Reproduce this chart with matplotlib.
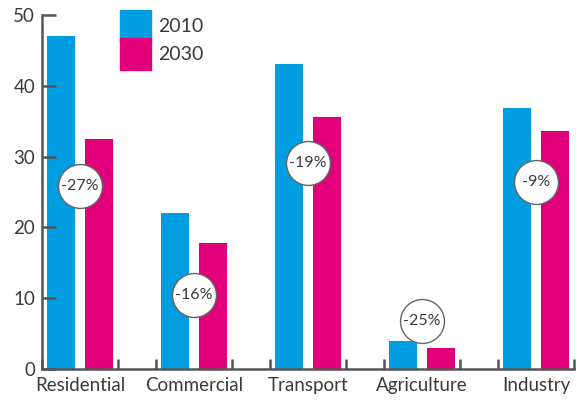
from matplotlib import pyplot as plt
from matplotlib.patches import Patch
import numpy as np

categories = ['Residential', 'Commercial', 'Transport', 'Agriculture', 'Industry']
values_2010 = [47, 22, 43.1, 4, 36.9]
values_2030 = [32.5, 17.8, 35.6, 3.0, 33.6]
change_labels = ['-27%', '-16%', '-19%', '-25%', '-9%']
change_y = [25.8, 10.4, 29.1, 6.8, 26.4]

blue = '#009ee0'
pink = '#e2007a'
grey = '#555555'
text_col = '#3a3a3a'

plt.rcParams['font.family'] = ['Lato', 'DejaVu Sans']

fig = plt.figure(figsize=(5.8, 4.09), dpi=100)
ax = fig.add_axes([0.0724, 0.0978, 0.9173, 0.8652])

x = np.arange(len(categories))
w = 0.246
ax.bar(x - 0.1667, values_2010, w, color=blue, label='2010')
ax.bar(x + 0.1667, values_2030, w, color=pink, label='2030')

# change markers
ax.scatter(x, change_y, s=1000, facecolor='white', edgecolor='#666666',
           linewidth=1.0, zorder=3)
for xi, yi, lab in zip(x, change_y, change_labels):
    ax.text(xi, yi, lab, ha='center', va='center', fontsize=11.5,
            color=text_col, zorder=4)

ax.set_xlim(-0.333, 4.333)
ax.set_ylim(0, 50)
ax.set_yticks([0, 10, 20, 30, 40, 50])
ax.tick_params(axis='y', direction='in', length=10, width=1.8, color=grey,
               labelsize=13.5, labelcolor=text_col, pad=5)

# group edge ticks on x axis, category names as minor labels
edges = np.concatenate([x - 0.333, x + 0.333])
ax.set_xticks(edges)
ax.set_xticklabels([])
ax.tick_params(axis='x', which='major', direction='in', length=7, width=1.8,
               color=grey)
ax.set_xticks(x, minor=True)
ax.set_xticklabels(categories, minor=True)
ax.tick_params(axis='x', which='minor', length=0, labelsize=13.5,
               labelcolor=text_col, pad=6)

for side in ['top', 'right']:
    ax.spines[side].set_visible(False)
for side in ['left', 'bottom']:
    ax.spines[side].set_color(grey)
    ax.spines[side].set_linewidth(1.8)

handles = [Patch(color=blue, label='2010'), Patch(color=pink, label='2030')]
fig.legend(handles=handles, loc='upper left', bbox_to_anchor=(0.19, 1.0),
           frameon=False, fontsize=14, handlelength=1.6, handleheight=2.15,
           handletextpad=0.35, labelspacing=-0.2, borderpad=0,
           labelcolor=text_col)

plt.savefig('out.png', dpi=100)
